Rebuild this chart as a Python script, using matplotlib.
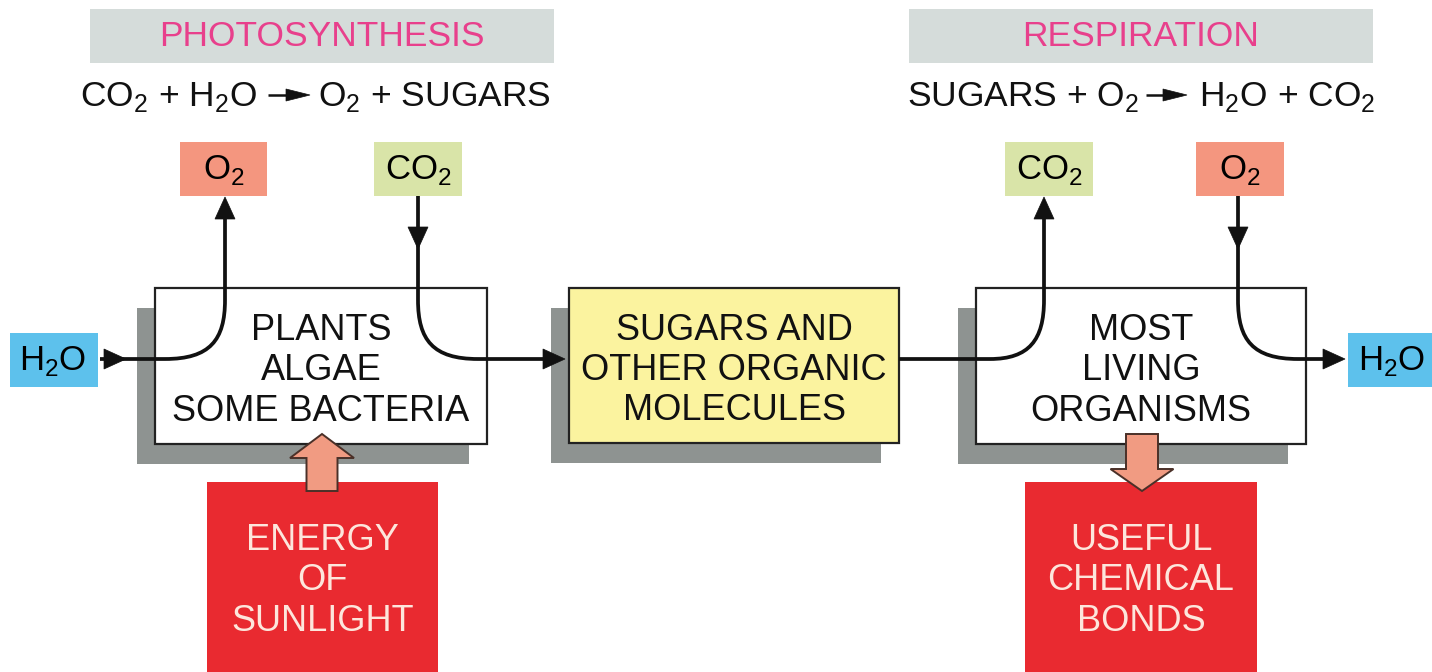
import matplotlib
matplotlib.use("Agg")
import matplotlib.pyplot as plt
from matplotlib.patches import Rectangle, Polygon, PathPatch
from matplotlib.path import Path

plt.rcParams["font.family"] = ["Liberation Sans", "DejaVu Sans"]
plt.rcParams["mathtext.fontset"] = "custom"
plt.rcParams["mathtext.rm"] = "Liberation Sans"

# Text content
banner_titles = ["PHOTOSYNTHESIS", "RESPIRATION"]
equations = [r"CO$_\mathregular{2}$ + H$_\mathregular{2}$O",
             r"O$_\mathregular{2}$ + SUGARS",
             r"SUGARS + O$_\mathregular{2}$",
             r"H$_\mathregular{2}$O + CO$_\mathregular{2}$"]
gas_labels = [r"O$_\mathregular{2}$", r"CO$_\mathregular{2}$",
              r"CO$_\mathregular{2}$", r"O$_\mathregular{2}$"]
water_label = r"H$_\mathregular{2}$O"
main_labels = ["PLANTS\nALGAE\nSOME BACTERIA",
               "SUGARS AND\nOTHER ORGANIC\nMOLECULES",
               "MOST\nLIVING\nORGANISMS"]
energy_labels = ["ENERGY\nOF\nSUNLIGHT", "USEFUL\nCHEMICAL\nBONDS"]

# Colours
GRAY_BANNER = "#d5dcda"
PINK = "#e8408c"
SALMON = "#f4967f"
GREEN = "#d9e4a8"
BLUE = "#5dc1ec"
YELLOW = "#fbf39f"
SHADOW = "#8e9391"
RED = "#e92a30"
RED_TEXT = "#fde6dc"
ARROW_FILL = "#f19b82"
INK = "#111111"

# Layout (pixel coordinates, y downwards)
banners = [(90, 9, 464, 54), (909, 9, 464, 54)]
# (left text right edge, arrow start, arrow tip, right text left edge)
eq_spans = [(257, 268, 310, 318), (1139, 1146, 1187, 1199)]
gas_boxes = [(180, 142, 87, 54), (374, 142, 88, 54),
             (1005, 142, 88, 54), (1196, 142, 88, 54)]
gas_colors = [SALMON, GREEN, GREEN, SALMON]
water_boxes = [(10, 333, 88, 54), (1348, 333, 90, 54)]
main_boxes = [(155, 288, 332, 156), (569, 288, 330, 155), (976, 288, 330, 156)]
main_colors = ["white", YELLOW, "white"]
shadow_off = (-18, 20)
red_boxes = [(207, 482, 231, 200), (1025, 482, 232, 200)]
FLOW_Y = 359
EQ_Y = 97

fig = plt.figure(figsize=(14.32, 6.72), dpi=100)
ax = fig.add_axes([0, 0, 1, 1])
ax.set_xlim(0, 1432)
ax.set_ylim(672, 0)
ax.axis("off")


def box(x, y, w, h, fc, ec="none", lw=0, z=2):
    ax.add_patch(Rectangle((x, y), w, h, facecolor=fc, edgecolor=ec, lw=lw, zorder=z))


def head(tx, ty, d, length=22, half=10):
    # filled triangular arrow head with tip at (tx, ty)
    dx, dy = {"up": (0, -1), "down": (0, 1), "right": (1, 0)}[d]
    bx, by = tx - dx * length, ty - dy * length
    px, py = -dy * half, dx * half
    ax.add_patch(Polygon([(tx, ty), (bx + px, by + py), (bx - px, by - py)],
                         closed=True, facecolor=INK, edgecolor=INK, lw=0.5, zorder=6))


def curve(verts, codes):
    ax.add_patch(PathPatch(Path(verts, codes), facecolor="none", edgecolor=INK,
                           lw=2.7, zorder=5, capstyle="butt"))


def block_arrow(cx, y_base, y_tip, shaft_w, head_w, head_len):
    s = 1 if y_tip > y_base else -1
    hb = y_tip - s * head_len
    pts = [(cx - shaft_w / 2, y_base), (cx - shaft_w / 2, hb), (cx - head_w / 2, hb),
           (cx, y_tip), (cx + head_w / 2, hb), (cx + shaft_w / 2, hb),
           (cx + shaft_w / 2, y_base)]
    ax.add_patch(Polygon(pts, closed=True, facecolor=ARROW_FILL, edgecolor="#4a3028",
                         lw=1.4, zorder=7))


# banners and equations
for (x, y, w, h), title in zip(banners, banner_titles):
    box(x, y, w, h, GRAY_BANNER)
    ax.text(x + w / 2, y + h / 2 + 1, title, color=PINK, fontsize=25.5,
            ha="center", va="center", zorder=3)

for (lx, a0, a1, rx), lhs, rhs in zip(eq_spans, equations[0::2], equations[1::2]):
    ax.text(lx, EQ_Y, lhs, fontsize=25.5, ha="right", va="center", color=INK)
    ax.text(rx, EQ_Y, rhs, fontsize=25.5, ha="left", va="center", color=INK)
    ax.plot([a0, a1 - 20], [EQ_Y - 2, EQ_Y - 2], color=INK, lw=1.8, solid_capstyle="butt")
    ax.add_patch(Polygon([(a1, EQ_Y - 2), (a1 - 24, EQ_Y - 8), (a1 - 24, EQ_Y + 4)],
                         closed=True, facecolor=INK, edgecolor=INK, lw=0.5))

# gas boxes
for (x, y, w, h), c, lab in zip(gas_boxes, gas_colors, gas_labels):
    box(x, y, w, h, c)
    ax.text(x + w / 2, y + h / 2 + 1, lab, fontsize=25, ha="center", va="center", zorder=3)

for (x, y, w, h) in water_boxes:
    box(x, y, w, h, BLUE)
    ax.text(x + w / 2 - 1, y + h / 2 + 1, water_label, fontsize=25, ha="center",
            va="center", zorder=3)

# main boxes with drop shadows
for (x, y, w, h), c, lab in zip(main_boxes, main_colors, main_labels):
    box(x + shadow_off[0], y + shadow_off[1], w, h, SHADOW, z=1)
    box(x, y, w, h, c, ec="#222222", lw=1.6, z=2)
    ax.text(x + w / 2, y + h / 2 + 5, lab, fontsize=26, ha="center", va="center",
            linespacing=1.2, color=INK, zorder=3)

# red energy boxes
for (x, y, w, h), lab in zip(red_boxes, energy_labels):
    box(x, y, w, h, RED, z=2)
    ax.text(x + w / 2, 581, lab, fontsize=26, ha="center", va="center",
            linespacing=1.2, color=RED_TEXT, zorder=3)

# flow lines - photosynthesis side
M, C, L = Path.MOVETO, Path.CURVE4, Path.LINETO
curve([(100, FLOW_Y), (165, FLOW_Y), (210, FLOW_Y), (225, 340), (225, 300), (225, 218)],
      [M, L, C, C, C, L])
head(126, FLOW_Y, "right")
head(225, 197, "up")

curve([(418, 196), (418, 300), (418, 340), (433, FLOW_Y), (478, FLOW_Y), (545, FLOW_Y)],
      [M, L, C, C, C, L])
head(418, 249, "down")
head(565, FLOW_Y, "right")

# respiration side
curve([(899, FLOW_Y), (990, FLOW_Y), (1029, FLOW_Y), (1044, 340), (1044, 300), (1044, 218)],
      [M, L, C, C, C, L])
head(1044, 197, "up")

curve([(1238, 196), (1238, 300), (1238, 340), (1253, FLOW_Y), (1298, FLOW_Y), (1324, FLOW_Y)],
      [M, L, C, C, C, L])
head(1238, 249, "down")
head(1345, FLOW_Y, "right")

# energy block arrows
block_arrow(322, 491, 434, 31, 64, 24)
block_arrow(1142, 434, 491, 32, 63, 22)

fig.savefig("out.png", dpi=100)
